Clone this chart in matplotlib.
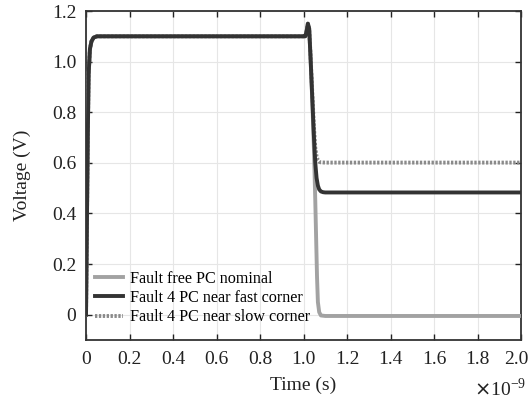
import matplotlib
matplotlib.use("Agg")
import matplotlib.pyplot as plt
from matplotlib.ticker import FuncFormatter
import matplotlib.transforms as mtransforms

plt.rcParams['font.family'] = ['Liberation Serif', 'DejaVu Serif']

# Data (time in ns, voltage in V)
t_nominal = [0, 0.004, 0.008, 0.012, 0.018, 0.025, 0.035, 0.05, 1.0, 1.008, 1.014, 1.02, 1.026, 1.032,
             1.04, 1.048, 1.054, 1.058, 1.062, 1.066, 1.072, 1.08, 1.1, 2.0]
v_nominal = [0, 0.35, 0.7, 0.95, 1.05, 1.08, 1.095, 1.1, 1.1, 1.1, 1.12, 1.15, 1.13, 1.02,
             0.85, 0.65, 0.45, 0.3, 0.15, 0.05, 0.01, -0.003, -0.005, -0.005]

t_fast = [0, 0.004, 0.008, 0.012, 0.018, 0.025, 0.035, 0.05, 1.0, 1.008, 1.014, 1.02, 1.026, 1.032,
          1.04, 1.048, 1.054, 1.06, 1.066, 1.072, 1.08, 1.09, 1.1, 2.0]
v_fast = [0, 0.35, 0.7, 0.95, 1.05, 1.08, 1.095, 1.1, 1.1, 1.1, 1.12, 1.15, 1.13, 1.02,
          0.86, 0.70, 0.6, 0.54, 0.51, 0.495, 0.487, 0.484, 0.483, 0.483]

t_slow = [0, 0.004, 0.008, 0.012, 0.018, 0.025, 0.035, 0.05, 1.0, 1.008, 1.014, 1.02, 1.026, 1.032,
          1.04, 1.048, 1.054, 1.06, 1.066, 1.072, 1.08, 1.1, 2.0]
v_slow = [0, 0.35, 0.7, 0.95, 1.05, 1.08, 1.095, 1.1, 1.1, 1.1, 1.12, 1.15, 1.13, 1.03,
          0.88, 0.74, 0.66, 0.625, 0.61, 0.604, 0.602, 0.601, 0.601]

labels = ['Fault free PC nominal', 'Fault 4 PC near fast corner', 'Fault 4 PC near slow corner']
x_ticks = [0, 0.2, 0.4, 0.6, 0.8, 1.0, 1.2, 1.4, 1.6, 1.8, 2.0]
y_ticks = [0, 0.2, 0.4, 0.6, 0.8, 1.0, 1.2]

fig = plt.figure(figsize=(5.32, 4.03), dpi=100)
ax = fig.add_axes([0.1617, 0.1563, 0.8177, 0.8164])

ax.plot(t_nominal, v_nominal, color='#a2a2a2', lw=2.8, label=labels[0], zorder=3)
ax.plot(t_slow, v_slow, color='#8a8a8a', lw=2.8, linestyle=(0, (0.6, 0.4)), label=labels[2], zorder=4)
ax.plot(t_fast, v_fast, color='#333333', lw=2.8, label=labels[1], zorder=5)

ax.set_xlim(0, 2.0)
ax.set_ylim(-0.1, 1.2)
ax.set_xticks(x_ticks)
ax.set_yticks(y_ticks)
fmt = FuncFormatter(lambda v, p: '0' if abs(v) < 1e-9 else f'{v:.1f}')
ax.xaxis.set_major_formatter(fmt)
ax.yaxis.set_major_formatter(fmt)
ax.tick_params(direction='in', top=True, right=True, length=4, width=1, labelsize=14,
               colors='#222222')
ax.tick_params(axis='x', pad=8)
ax.tick_params(axis='y', pad=7)
ax.grid(True, color='#e6e6e6', lw=0.8)
for s in ax.spines.values():
    s.set_linewidth(1.3)
    s.set_color('#333333')

# shift the last x tick label slightly left, as in the reference
fig.canvas.draw()
last = ax.get_xticklabels()[-1]
last.set_transform(last.get_transform() + mtransforms.ScaledTranslation(-5 / 100, 0, fig.dpi_scale_trans))

ax.set_xlabel('Time (s)', fontsize=14, color='#222222', labelpad=6)
ax.set_ylabel('Voltage (V)', fontsize=14, color='#222222', labelpad=15)
fig.text(0.989, 0.018, r'$\times$10$^{\mathregular{-9}}$', ha='right', va='baseline', fontsize=14,
         color='#222222')

h, l = ax.get_legend_handles_labels()
order = [0, 2, 1]
ax.legend([h[i] for i in order], [l[i] for i in order], loc='lower left', frameon=False,
          fontsize=11.6, handlelength=1.75, handletextpad=0.45, labelspacing=0.2,
          borderaxespad=0.0, borderpad=0.0, bbox_to_anchor=(0.02, 0.045))

fig.savefig('out.png', dpi=100)
